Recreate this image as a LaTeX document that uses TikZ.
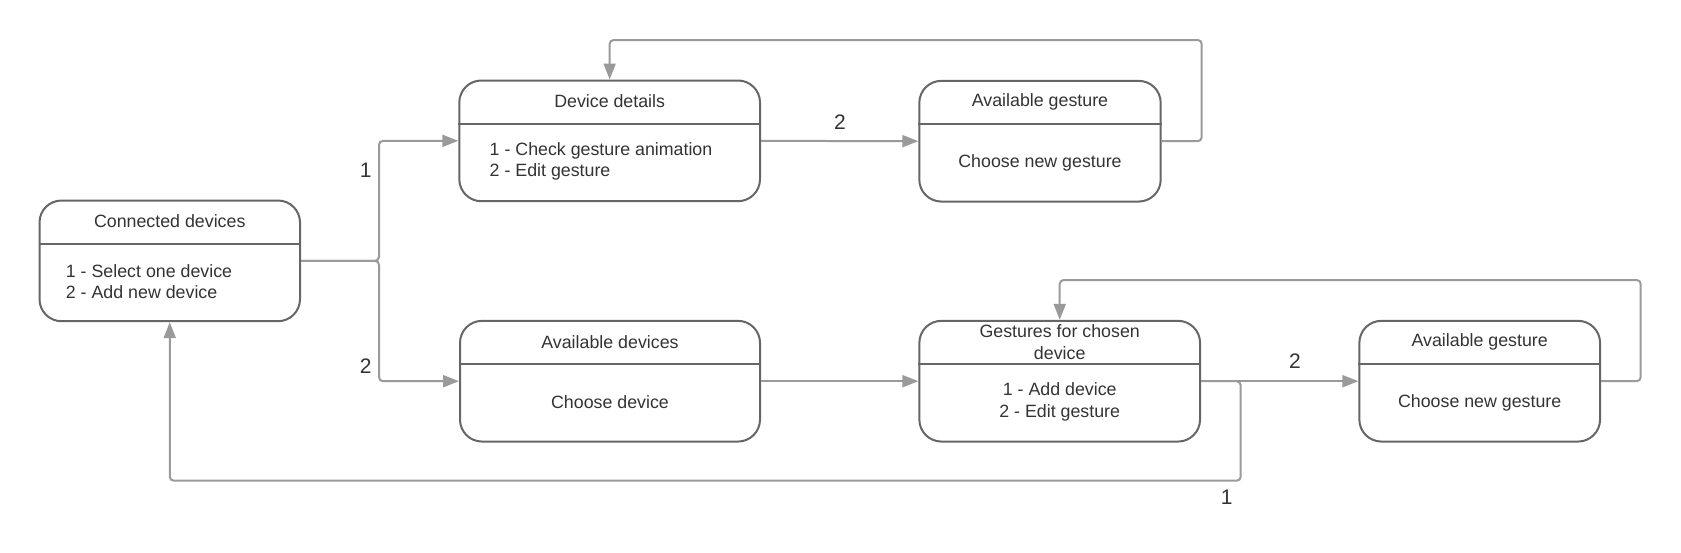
\documentclass[tikz,border=0pt]{standalone}
\usepackage{fontspec}
\setmainfont{Liberation Sans}
\usepackage{xcolor}
\usepackage{tikz}
\usetikzlibrary{arrows.meta, positioning}

\definecolor{boxgray}{HTML}{666666}
\definecolor{linegray}{HTML}{9A9A9A}
\definecolor{inkgray}{HTML}{333333}

\begin{document}
\begin{tikzpicture}[x=0.5pt, y=-0.5pt,
    every node/.style={text=inkgray, font=\fontsize{8.9pt}{10.85pt}\selectfont}]
  \tikzset{statebox/.style={draw=boxgray, line width=1pt, rounded corners=11pt,
      minimum height=60.35pt, inner sep=0pt},
    divider/.style={draw=boxgray, line width=1pt},
    title/.style={align=center, inner sep=0pt},
    body/.style={inner sep=0pt},
    flow/.style={draw=linegray, line width=1pt, rounded corners=2pt,
      -{Triangle[length=8pt, width=6pt]}},
    choice/.style={inner sep=0pt, font=\fontsize{10.5pt}{12pt}\selectfont}}
  \useasboundingbox (0,0) rectangle (1681,552);

  % states
  \node[statebox, minimum width=130.25pt] (cd)  at ( 169.75, 260.85) {};
  \node[statebox, minimum width=150.35pt] (dd)  at ( 609.65, 140.85) {};
  \node[statebox, minimum width=120.7pt]  (ag1) at (1040.0,  141.2)  {};
  \node[statebox, minimum width=150pt]    (ad)  at ( 610.0,  381.2)  {};
  \node[statebox, minimum width=140.35pt] (gc)  at (1059.7,  381.2)  {};
  \node[statebox, minimum width=120.35pt] (ag2) at (1479.7,  381.2)  {};

  \foreach \s in {cd, dd, ag1, ad, gc, ag2}
    \draw[divider] ([yshift=-22pt]\s.north west) -- ([yshift=-22pt]\s.north east);

  % titles
  \node[title] (cd-t)  at ([yshift=-11pt]cd.north)  {Connected devices};
  \node[title] (dd-t)  at ([yshift=-11pt]dd.north)  {Device details};
  \node[title] (ag1-t) at ([yshift=-11pt]ag1.north) {Available gesture};
  \node[title] (ad-t)  at ([yshift=-11pt]ad.north)  {Available devices};
  \node[title] (gc-t)  at ([yshift=-11.2pt]gc.north) {Gestures for chosen\\device};
  \node[title] (ag2-t) at ([yshift=-11pt]ag2.north) {Available gesture};

  % bodies
  \node[body, anchor=west, align=left] (cd-b) at ([xshift=13.5pt, yshift=-10.4pt]cd.west)
    {1 - Select one device\\2 - Add new device};
  \node[body, anchor=west, align=left] (dd-b) at ([xshift=15.5pt, yshift=-10.3pt]dd.west)
    {1 - Check gesture animation\\2 - Edit gesture};
  \node[body] (ag1-b) at ([yshift=-10.6pt]ag1.center) {Choose new gesture};
  \node[body] (ad-b)  at ([yshift=-10.5pt]ad.center)  {Choose device};
  \node[body, align=center] (gc-b) at ([yshift=-10.5pt]gc.center)
    {1 - Add device\\2 - Edit gesture};
  \node[body] (ag2-b) at ([yshift=-10.6pt]ag2.center) {Choose new gesture};

  % connectors
  \coordinate (split) at (379, 260.85);
  \coordinate (loopa) at (1201.7, 40);
  \coordinate (loopb) at (1640.7, 280);
  \coordinate (back)  at (1240.7, 480.7);

  \draw[flow] (cd.east) -- (split) |- (dd.west);
  \draw[flow] (cd.east) -- (split) |- (ad.west);
  \draw[flow] (dd.east) -- (ag1.west);
  \draw[flow] (ag1.east) -| (loopa) -| (dd.north);
  \draw[flow] (ad.east) -- (gc.west);
  \draw[flow] (gc.east) -- (ag2.west);
  \draw[flow] (ag2.east) -| (loopb) -| (gc.north);
  \draw[flow] (gc.east) -| (back) -| (cd.south);

  % choice labels
  \node[choice] (c-one)   at ( 365.6, 170.4) {1};
  \node[choice] (c-two)   at ( 365.6, 366.6) {2};
  \node[choice] (dd-two)  at ( 840.0, 121.7) {2};
  \node[choice] (gc-two)  at (1295.0, 361.0) {2};
  \node[choice] (gc-one)  at (1226.7, 497.7) {1};
\end{tikzpicture}
\end{document}
